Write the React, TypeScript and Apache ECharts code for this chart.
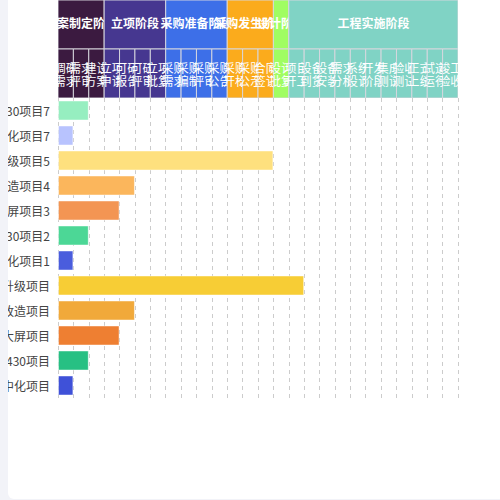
import React, { useEffect, useRef } from "react";
import * as echarts from "echarts";

// Projects, listed top to bottom
const categories = [
  "GB5430项目7",
  "数字化项目7",
  "系统升级项目5",
  "机房改造项目4",
  "指挥大屏项目3",
  "GB5430项目2",
  "数字化项目1",
  "系统升级项目",
  "机房改造项目",
  "指挥大屏项目",
  "GB5430项目",
  "智慧中化项目",
];
// Progress, counted in sub-stage columns
const progress = [2, 1, 14, 5, 4, 2, 1, 16, 5, 4, 2, 1];
const barColors = [
  "#96eec0",
  "#b8c3fe",
  "#fee07e",
  "#fbb65c",
  "#f39553",
  "#4cd796",
  "#4a5ddd",
  "#f7cd35",
  "#f1a93a",
  "#ee7f32",
  "#27c083",
  "#3f51d8",
];

// Stages and their sub-stages
const stageNames = ["方案制定阶段", "立项阶段", "采购准备阶段", "采购发生阶段", "设计阶段", "工程实施阶段"];
const stageColors = ["#3b1a40", "#463790", "#3d6fe8", "#fbab1c", "#a0fd62", "#80d3c5"];
const subStages: string[][] = [
  ["调研\n需求", "需求\n评审", "建设\n方案"],
  ["立项\n申请", "可研\n报告", "可研\n评审", "立项\n批复"],
  ["采购\n需求", "采购\n编制", "采购\n评审", "采购\n公告"],
  ["采购\n开标", "采购\n公示", "合同\n签订"],
  ["设计\n批复"],
  ["项目\n开工", "设备\n到货", "设备\n安装", "需求\n分析", "系统\n设计", "开发\n阶段", "集成\n测试", "验收\n测试", "正式\n上线", "试运\n运行", "竣工\n验收"],
];

export default function App() {
  const ref = useRef<HTMLDivElement>(null);

  useEffect(() => {
    if (!ref.current) return;
    const chart = echarts.init(ref.current, undefined, { renderer: "svg" });

    // header cells: [start, end, row], with label and color looked up by index
    const cells: number[][] = [];
    const cellLabels: string[] = [];
    const cellColors: string[] = [];
    const cellBold: boolean[] = [];
    let pos = 0;
    stageNames.forEach((name, i) => {
      const n = subStages[i].length;
      cells.push([pos, pos + n, 0]);
      cellLabels.push(name);
      cellColors.push(stageColors[i]);
      cellBold.push(true);
      pos += n;
    });
    pos = 0;
    subStages.forEach((subs, i) => {
      subs.forEach((s) => {
        cells.push([pos, pos + 1, 1]);
        cellLabels.push(s);
        cellColors.push(stageColors[i]);
        cellBold.push(false);
        pos += 1;
      });
    });
    const total = pos;

    const font = '"Noto Sans CJK SC", "Noto Sans", sans-serif';

    chart.setOption({
      animation: false,
      grid: [
        { left: 50, top: 98, width: 400, height: 300, outerBoundsMode: "none", containLabel: false },
        { left: 50, top: 0, width: 400, height: 98, outerBoundsMode: "none", containLabel: false },
      ],
      xAxis: [
        {
          gridIndex: 0,
          type: "value",
          min: 0,
          max: total,
          interval: 1,
          axisLabel: { show: false },
          axisLine: { show: false },
          axisTick: { show: false },
          splitLine: { show: true, lineStyle: { type: [4, 4], color: "#cccccc", width: 1 } },
        },
        { gridIndex: 1, type: "value", min: 0, max: total, show: false },
      ],
      yAxis: [
        {
          gridIndex: 0,
          type: "category",
          data: categories,
          inverse: true,
          axisLine: { show: false },
          axisTick: { show: false },
          splitLine: { show: false },
          axisLabel: { margin: 8, color: "#444", fontSize: 12, fontFamily: font },
        },
        { gridIndex: 1, type: "value", min: 0, max: 2, inverse: true, show: false },
      ],
      series: [
        {
          type: "bar",
          xAxisIndex: 0,
          yAxisIndex: 0,
          barWidth: 20,
          data: progress.map((v, i) => ({
            value: v,
            itemStyle: { color: barColors[i], borderColor: "rgba(255,255,255,0.45)", borderWidth: 1 },
          })),
        },
        {
          type: "custom",
          xAxisIndex: 1,
          yAxisIndex: 1,
          clip: true,
          data: cells,
          renderItem: (params: any, api: any) => {
            const s = api.value(0);
            const e = api.value(1);
            const r = api.value(2);
            const p1 = api.coord([s, r]);
            const p2 = api.coord([e, r + 1]);
            const idx = params.dataIndex;
            const bold = cellBold[idx];
            return {
              type: "group",
              children: [
                {
                  type: "rect",
                  shape: { x: p1[0], y: p1[1], width: p2[0] - p1[0], height: p2[1] - p1[1] },
                  style: { fill: cellColors[idx], stroke: "rgba(215,215,222,0.95)", lineWidth: 1 },
                },
                {
                  type: "text",
                  style: {
                    text: cellLabels[idx],
                    x: (p1[0] + p2[0]) / 2,
                    y: (p1[1] + p2[1]) / 2 - (bold ? 2 : 0),
                    align: "center",
                    verticalAlign: "middle",
                    fill: "#ffffff",
                    fontSize: 12,
                    fontWeight: bold ? "bold" : "normal",
                    fontFamily: font,
                    lineHeight: 13,
                  },
                },
              ],
            };
          },
        },
      ],
    });

    return () => chart.dispose();
  }, []);

  return (
    <div style={{ position: "fixed", left: 0, top: 0, width: 500, height: 500, background: "#f2f3f8" }}>
      <div
        style={{
          position: "absolute",
          left: 8,
          top: 0,
          width: 492,
          height: 499,
          background: "#ffffff",
          borderBottomLeftRadius: 6,
          overflow: "hidden",
        }}
      >
        <div ref={ref} style={{ width: 492, height: 499 }} />
      </div>
    </div>
  );
}
